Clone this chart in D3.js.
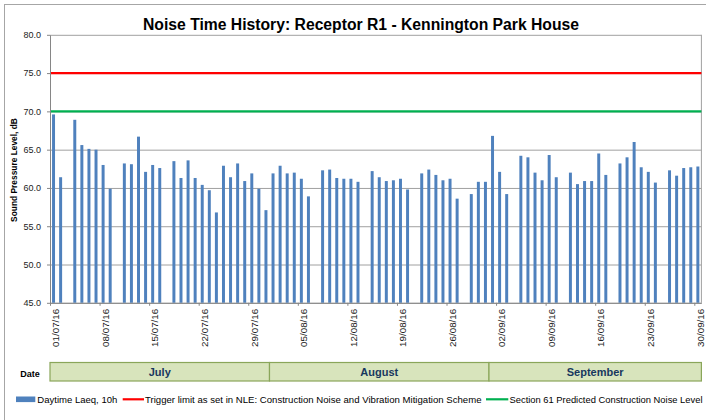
<!DOCTYPE html>
<html>
<head>
<meta charset="utf-8">
<script src="https://cdn.jsdelivr.net/npm/d3@7"></script>
<style>
  body { margin: 0; background: #fff; }
  svg { display: block; font-family: "Liberation Sans", Arial, sans-serif; }
</style>
</head>
<body>
<div class="chart_wrapper"></div>
<script>

// measured days (dd/mm/yy) and daytime Laeq,10h values
const dates = [
  "01/07/16","02/07/16","04/07/16","05/07/16","06/07/16","07/07/16","08/07/16","09/07/16",
  "11/07/16","12/07/16","13/07/16","14/07/16","15/07/16","16/07/16",
  "18/07/16","19/07/16","20/07/16","21/07/16","22/07/16","23/07/16","24/07/16",
  "25/07/16","26/07/16","27/07/16","28/07/16","29/07/16","30/07/16","31/07/16",
  "01/08/16","02/08/16","03/08/16","04/08/16","05/08/16","06/08/16",
  "08/08/16","09/08/16","10/08/16","11/08/16","12/08/16","13/08/16",
  "15/08/16","16/08/16","17/08/16","18/08/16","19/08/16","20/08/16",
  "22/08/16","23/08/16","24/08/16","25/08/16","26/08/16","27/08/16",
  "29/08/16","30/08/16","31/08/16",
  "01/09/16","02/09/16","03/09/16",
  "05/09/16","06/09/16","07/09/16","08/09/16","09/09/16","10/09/16",
  "12/09/16","13/09/16","14/09/16","15/09/16","16/09/16","17/09/16",
  "19/09/16","20/09/16","21/09/16","22/09/16","23/09/16","24/09/16",
  "26/09/16","27/09/16","28/09/16","29/09/16","30/09/16"
]

const laeq = [
  69.6, 61.4, 68.9, 65.6, 65.1, 65.0, 63.0, 59.9,
  63.2, 63.1, 66.7, 62.1, 63.0, 62.6,
  63.5, 61.3, 63.6, 61.3, 60.4, 59.7, 56.8,
  62.9, 61.4, 63.2, 60.9, 61.9, 59.9, 57.1,
  61.9, 62.9, 61.9, 62.0, 61.2, 58.9,
  62.3, 62.4, 61.3, 61.2, 61.2, 60.8,
  62.2, 61.4, 60.9, 61.0, 61.2, 59.8,
  61.9, 62.4, 61.7, 61.0, 61.2, 58.6,
  59.2, 60.8, 60.8,
  66.8, 62.1, 59.2,
  64.2, 64.0, 62.0, 61.0, 64.3, 61.4,
  62.0, 60.5, 60.9, 60.9, 64.5, 61.7,
  63.2, 64.0, 66.0, 62.7, 62.1, 60.7,
  62.3, 61.6, 62.6, 62.7, 62.8
]

const tickDates = ["01/07/16","08/07/16","15/07/16","22/07/16","29/07/16","05/08/16","12/08/16",
  "19/08/16","26/08/16","02/09/16","09/09/16","16/09/16","23/09/16","30/09/16"]

const months = ["July", "August", "September"]
const monthBounds = ["01/07/16", "01/08/16", "01/09/16", "01/10/16"]

const yTicks = [45, 50, 55, 60, 65, 70, 75, 80]

const triggerLimit = 75
const section61Level = 70

const legendLabels = [
  "Daytime Laeq, 10h",
  "Trigger limit as set in NLE: Construction Noise and Vibration Mitigation Scheme",
  "Section 61 Predicted Construction Noise Level"
]


function drawChart() {

  const parseDate = d3.timeParse("%d/%m/%y")
  const formatDate = d3.timeFormat("%d/%m/%y")

  const dataset = dates.map((d, i) => ({ date: parseDate(d), laeq: laeq[i] }))

  let dimensions = {
    width: 706,
    height: 420,
    margin: { top: 34.8, right: 4.6, bottom: 117.2, left: 50 },
  }
  dimensions.boundedWidth = dimensions.width
    - dimensions.margin.left
    - dimensions.margin.right
  dimensions.boundedHeight = dimensions.height
    - dimensions.margin.top
    - dimensions.margin.bottom

  const wrapper = d3.select(".chart_wrapper")
    .append("svg")
      .attr("width", dimensions.width)
      .attr("height", dimensions.height)

  // chart frame
  wrapper.append("rect")
    .attr("x", 4.5)
    .attr("y", 4.5)
    .attr("width", 740)
    .attr("height", 460)
    .attr("fill", "none")
    .attr("stroke", "#a6a6a6")

  // title
  wrapper.append("text")
    .attr("x", 143)
    .attr("y", 29.5)
    .attr("textLength", 436)
    .attr("lengthAdjust", "spacingAndGlyphs")
    .style("font-size", "16px")
    .style("font-weight", "bold")
    .text("Noise Time History: Receptor R1 - Kennington Park House")

  const bounds = wrapper.append("g")
    .attr("transform", `translate(${dimensions.margin.left},${dimensions.margin.top})`)

  // scales
  const firstDay = parseDate(monthBounds[0])
  const lastDay = parseDate(monthBounds[monthBounds.length - 1])
  const allDays = d3.timeDay.range(firstDay, lastDay)

  const xTime = d3.scaleTime()
    .domain([firstDay, lastDay])
    .range([0, dimensions.boundedWidth])

  const xScale = d3.scaleBand()
    .domain(allDays.map(formatDate))
    .range([0, dimensions.boundedWidth])
    .paddingInner(0.58)
    .paddingOuter(0.29)

  const yScale = d3.scaleLinear()
    .domain([45, 80])
    .range([dimensions.boundedHeight, 0])

  // gridlines
  const grid = bounds.append("g")
    .call(d3.axisLeft(yScale).tickValues(yTicks).tickSize(-dimensions.boundedWidth).tickFormat(""))
  grid.select(".domain").remove()
  grid.selectAll("line").attr("stroke", "#a0a0a0")

  // right border of plot area
  bounds.append("line")
    .attr("x1", dimensions.boundedWidth)
    .attr("x2", dimensions.boundedWidth)
    .attr("y1", 0)
    .attr("y2", dimensions.boundedHeight)
    .attr("stroke", "#a0a0a0")

  // bars
  bounds.selectAll(".bar")
    .data(dataset)
    .enter()
    .append("rect")
      .attr("class", "bar")
      .attr("x", d => xScale(formatDate(d.date)))
      .attr("y", d => yScale(d.laeq))
      .attr("width", xScale.bandwidth())
      .attr("height", d => dimensions.boundedHeight - yScale(d.laeq))
      .attr("fill", "#4f81bd")

  // trigger / section 61 lines
  bounds.append("line")
    .attr("x1", 0)
    .attr("x2", dimensions.boundedWidth)
    .attr("y1", yScale(triggerLimit))
    .attr("y2", yScale(triggerLimit))
    .attr("stroke", "#ff0000")
    .attr("stroke-width", 2.2)

  bounds.append("line")
    .attr("x1", 0)
    .attr("x2", dimensions.boundedWidth)
    .attr("y1", yScale(section61Level))
    .attr("y2", yScale(section61Level))
    .attr("stroke", "#00b050")
    .attr("stroke-width", 2.2)

  // y axis
  const yAxis = d3.axisLeft(yScale)
    .tickValues(yTicks)
    .tickSizeInner(3)
    .tickSizeOuter(0)
    .tickPadding(6)
    .tickFormat(d3.format(".1f"))

  const yAxisGroup = bounds.append("g").call(yAxis)
  yAxisGroup.select(".domain").attr("stroke", "#868686")
  yAxisGroup.selectAll("line").attr("stroke", "#868686")
  yAxisGroup.selectAll("text")
    .style("font-size", "9px")
    .attr("fill", "#222")

  wrapper.append("text")
    .attr("transform", "translate(17.3,170) rotate(-90)")
    .attr("text-anchor", "middle")
    .style("font-size", "8.4px")
    .style("font-weight", "bold")
    .text("Sound Pressure Level, dB")

  // x axis
  const xAxis = d3.axisBottom(xTime)
    .tickValues(tickDates.map(parseDate))
    .tickSizeInner(3)
    .tickSizeOuter(0)
    .tickFormat(formatDate)

  const xAxisGroup = bounds.append("g")
    .attr("transform", `translate(0,${dimensions.boundedHeight})`)
    .call(xAxis)
  xAxisGroup.select(".domain").attr("stroke", "#868686")
  xAxisGroup.selectAll("line").attr("stroke", "#868686")
  xAxisGroup.selectAll("text")
    .attr("x", 0)
    .attr("y", 0)
    .attr("dy", "0.35em")
    .attr("transform", `translate(${xScale.step() * 0.75},6) rotate(-90)`)
    .attr("text-anchor", "end")
    .attr("fill", "#222")
    .style("font-size", "9.8px")

  // month row
  const monthTop = 362.5
  const monthHeight = 18.5
  const monthData = months.map((m, i) => ({
    name: m,
    start: parseDate(monthBounds[i]),
    end: parseDate(monthBounds[i + 1])
  }))

  const monthRow = wrapper.append("g")
    .attr("transform", `translate(${dimensions.margin.left},0)`)

  monthRow.selectAll("rect")
    .data(monthData)
    .enter()
    .append("rect")
      .attr("x", d => xTime(d.start))
      .attr("y", monthTop)
      .attr("width", d => xTime(d.end) - xTime(d.start))
      .attr("height", monthHeight)
      .attr("fill", "#d8e4bc")
      .attr("stroke", "#8aa65a")
      .attr("stroke-width", 1.2)

  monthRow.selectAll(".month-label")
    .data(monthData)
    .enter()
    .append("text")
      .attr("class", "month-label")
      .attr("x", d => (xTime(d.start) + xTime(d.end)) / 2)
      .attr("y", monthTop + 13)
      .attr("text-anchor", "middle")
      .attr("fill", "#17375e")
      .style("font-size", "11px")
      .style("font-weight", "bold")
      .text(d => d.name)

  wrapper.append("text")
    .attr("x", 30)
    .attr("y", 377)
    .attr("text-anchor", "middle")
    .style("font-size", "9px")
    .style("font-weight", "bold")
    .text("Date")

  // legend
  const legendY = 399.3
  const legend = wrapper.append("g")

  legend.append("rect")
    .attr("x", 16)
    .attr("y", legendY - 2.8)
    .attr("width", 19.3)
    .attr("height", 5.6)
    .attr("fill", "#4f81bd")

  legend.append("line")
    .attr("x1", 122.7).attr("x2", 144)
    .attr("y1", legendY).attr("y2", legendY)
    .attr("stroke", "#ff0000")
    .attr("stroke-width", 2.2)

  legend.append("line")
    .attr("x1", 486).attr("x2", 508.3)
    .attr("y1", legendY).attr("y2", legendY)
    .attr("stroke", "#00b050")
    .attr("stroke-width", 2.2)

  const legendText = [
    { x: 37.3, len: 80 },
    { x: 145, len: 336.5 },
    { x: 509.5, len: 193 }
  ]

  legend.selectAll(".legend-text")
    .data(legendLabels)
    .enter()
    .append("text")
      .attr("class", "legend-text")
      .attr("x", (d, i) => legendText[i].x)
      .attr("y", legendY + 3.4)
      .attr("textLength", (d, i) => legendText[i].len)
      .attr("lengthAdjust", "spacingAndGlyphs")
      .style("font-size", "9.5px")
      .text(d => d)

}

drawChart()
</script>
</body>
</html>
